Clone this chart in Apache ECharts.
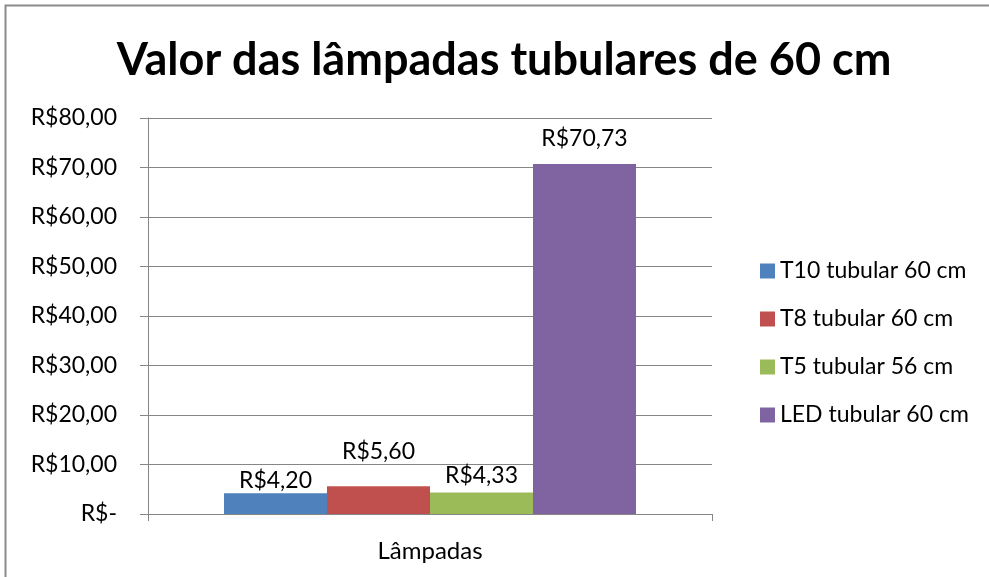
<!DOCTYPE html>
<html>
<head>
    <meta charset="utf-8">
    <script src="https://cdn.jsdelivr.net/npm/echarts@6/dist/echarts.min.js"></script>
</head>
<body style="margin:0">
    <div id="main" style="width: 989px;height:577px;"></div>

<script type="text/javascript">
    var categorias = ['Lâmpadas'];
    var lampadas = ['T10 tubular 60 cm', 'T8 tubular 60 cm', 'T5 tubular 56 cm', 'LED tubular 60 cm'];
    var precos = [4.20, 5.60, 4.33, 70.73];
    var cores = ['#4f81bd', '#c0504d', '#9bbb59', '#8064a2'];
    // distancia do rotulo ate o topo da barra (como o Excel posicionou)
    var distRotulo = [1, 23, 5, 14];

    var fonte = 'Lato, "Open Sans", sans-serif';

    function reais(v) {
        if (v === 0) return 'R$-';
        return 'R$' + v.toFixed(2).replace('.', ',');
    }

    var myChart = echarts.init(document.getElementById('main'));

    var series = [];
    for (var i = 0; i < lampadas.length; i++) {
        series.push({
            name: lampadas[i],
            type: 'bar',
            data: [precos[i]],
            barWidth: 103,
            barGap: '0%',
            itemStyle: { color: cores[i] },
            label: {
                show: true,
                position: 'top',
                distance: distRotulo[i],
                color: '#000',
                fontFamily: fonte,
                fontSize: 23,
                formatter: function (p) { return reais(p.value); }
            }
        });
    }

    var option = {
        backgroundColor: '#fff',
        animation: false,
        title: {
            text: 'Valor das lâmpadas tubulares de 60 cm',
            left: 499,
            top: 33,
            textAlign: 'center',
            textStyle: {
                fontFamily: fonte,
                fontWeight: 'bold',
                fontSize: 45,
                color: '#000'
            }
        },
        legend: {
            orient: 'vertical',
            left: 755,
            top: 254,
            itemWidth: 15,
            itemHeight: 15,
            itemGap: 24,
            icon: 'rect',
            data: lampadas,
            textStyle: {
                fontFamily: fonte,
                fontSize: 23,
                lineHeight: 24,
                color: '#000'
            }
        },
        grid: {
            left: 148,
            right: 277,
            top: 118,
            bottom: 63
        },
        xAxis: {
            type: 'category',
            data: categorias,
            axisLine: { lineStyle: { color: '#868686', width: 1 } },
            axisTick: { show: true, length: 7, lineStyle: { color: '#868686' } },
            axisLabel: {
                margin: 25,
                color: '#000',
                fontFamily: fonte,
                fontSize: 24
            }
        },
        yAxis: {
            type: 'value',
            min: 0,
            max: 80,
            interval: 10,
            axisLine: { show: true, lineStyle: { color: '#868686', width: 1 } },
            axisTick: { show: true, length: 8, lineStyle: { color: '#868686' } },
            splitLine: { lineStyle: { color: '#868686', width: 1 } },
            axisLabel: {
                margin: 31,
                color: '#000',
                fontFamily: fonte,
                fontSize: 23,
                formatter: reais
            }
        },
        graphic: [{
            type: 'rect',
            shape: { x: 5.5, y: 5.5, width: 1200, height: 1200 },
            style: { fill: null, stroke: '#8c8c8c', lineWidth: 2 },
            silent: true
        }],
        series: series
    };

    myChart.setOption(option);
</script>
</body>
</html>
